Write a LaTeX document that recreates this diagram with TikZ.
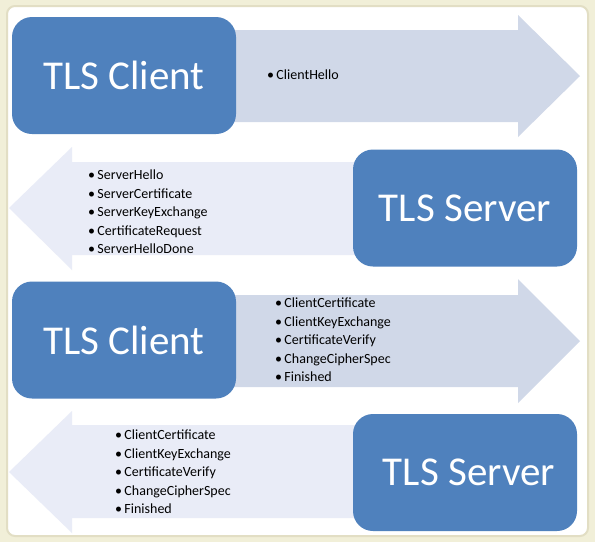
\documentclass[tikz,border=0pt]{standalone}
\usepackage{fontspec}
\setmainfont{Carlito}
\usepackage{xcolor}
\usepackage{tikz}
\usetikzlibrary{positioning}
\definecolor{tlsblue}{RGB}{79,129,189}
\definecolor{tlsfwd}{RGB}{208,216,232}
\definecolor{tlsback}{RGB}{233,236,247}
\definecolor{tlspaper}{RGB}{241,239,216}
\definecolor{tlsedge}{RGB}{226,222,196}

\tikzset{
  hostbox/.style={fill=tlsblue,text=white,rounded corners=20pt,minimum width=224pt,minimum height=117pt,inner sep=0pt,font=\fontsize{41}{41}\selectfont},
  msglist/.style={anchor=west,align=left,inner sep=0pt,font=\fontsize{14}{18.5}\selectfont}
}

\begin{document}
\begin{tikzpicture}[x=1pt,y=-1pt]
% Frame
\fill[tlspaper] (0,0) rectangle (595,542);
\draw[tlsedge,line width=2pt,fill=white,rounded corners=8pt] (7,6) rectangle (588,536);
\useasboundingbox (0,0) rectangle (595,542);

% Block arrows
\fill[tlsfwd] (220,30) -- (518,30) -- (518,15) -- (580,76) -- (518,137) -- (518,122) -- (220,122) -- cycle;
\fill[tlsback] (370,162) -- (72,162) -- (72,147) -- (9,208) -- (72,270) -- (72,255) -- (370,255) -- cycle;
\fill[tlsfwd] (220,295) -- (518,295) -- (518,279) -- (580,341) -- (518,403) -- (518,387) -- (220,387) -- cycle;
\fill[tlsback] (370,425) -- (72,425) -- (72,411) -- (9,472) -- (72,533) -- (72,518) -- (370,518) -- cycle;

% Client and server
\node[hostbox] (client1) at (124,75.5) {TLS Client};
\node[hostbox] (server1) at (465,208) {TLS Server};
\node[hostbox] (client2) at (124,340) {TLS Client};
\node[hostbox] (server2) at (465,472.5) {\hspace*{8pt}TLS Server};

% Messages
\node[msglist] (hello) at (267,75) {\textbullet\,ClientHello};
\node[msglist] (reply) at (88,212) {\textbullet\,ServerHello\\\textbullet\,ServerCertificate\\\textbullet\,ServerKeyExchange\\\textbullet\,CertificateRequest\\\textbullet\,ServerHelloDone};
\node[msglist] (finish1) at (275,340) {\textbullet\,ClientCertificate\\\textbullet\,ClientKeyExchange\\\textbullet\,CertificateVerify\\\textbullet\,ChangeCipherSpec\\\textbullet\,Finished};
\node[msglist] (finish2) at (115,472) {\textbullet\,ClientCertificate\\\textbullet\,ClientKeyExchange\\\textbullet\,CertificateVerify\\\textbullet\,ChangeCipherSpec\\\textbullet\,Finished};
\end{tikzpicture}
\end{document}
